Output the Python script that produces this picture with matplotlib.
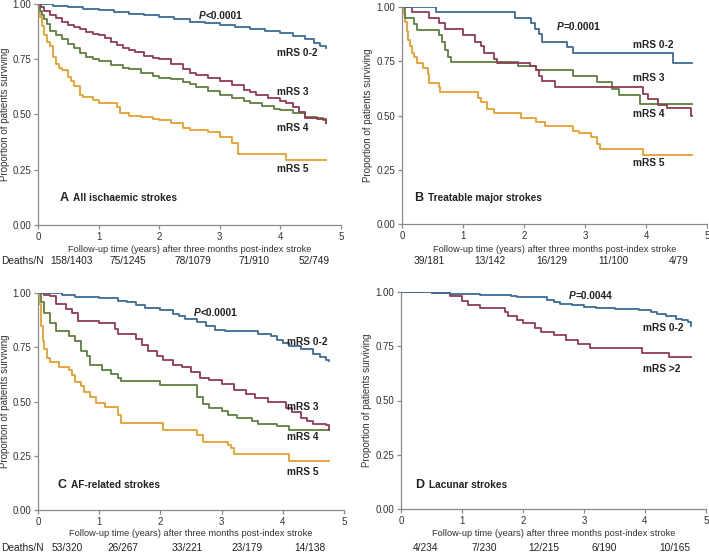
import matplotlib
matplotlib.use("Agg")
import matplotlib.pyplot as plt

plt.rcParams['font.family'] = ['Liberation Sans', 'DejaVu Sans']

# Colours
BLUE = "#3b6a92"
RED = "#8e3a52"
GREEN = "#5e7f3f"
ORANGE = "#e3a030"
AXIS = "#8a8a8a"
TEXT = "#222222"

# Panel A - all ischaemic strokes
a_02_t = [0, 0.25, 0.5, 0.75, 1.0, 1.25, 1.5, 1.75, 2.0, 2.25, 2.5, 2.75, 3.0, 3.25, 3.5, 3.75, 4.0, 4.2, 4.4, 4.55, 4.65, 4.75]
a_02_s = [1.0, 0.99, 0.985, 0.978, 0.973, 0.965, 0.955, 0.948, 0.94, 0.93, 0.92, 0.912, 0.905, 0.895, 0.887, 0.877, 0.867, 0.855, 0.84, 0.825, 0.81, 0.80]
a_3_t = [0, 0.05, 0.1, 0.2, 0.3, 0.4, 0.5, 0.6, 0.7, 0.8, 0.9, 1.0, 1.1, 1.2, 1.3, 1.4, 1.5, 1.6, 1.75, 1.9, 2.0, 2.2, 2.4, 2.5, 2.6, 2.8, 3.0, 3.2, 3.4, 3.5, 3.6, 3.8, 4.0, 4.1, 4.2, 4.3, 4.4, 4.6, 4.75]
a_3_s = [1.0, 0.985, 0.97, 0.95, 0.935, 0.92, 0.905, 0.895, 0.885, 0.875, 0.865, 0.86, 0.845, 0.83, 0.815, 0.80, 0.79, 0.785, 0.765, 0.755, 0.75, 0.73, 0.705, 0.69, 0.68, 0.665, 0.65, 0.635, 0.61, 0.60, 0.59, 0.575, 0.56, 0.55, 0.535, 0.51, 0.485, 0.48, 0.46]
a_4_t = [0, 0.03, 0.06, 0.1, 0.15, 0.2, 0.3, 0.4, 0.5, 0.6, 0.7, 0.8, 0.9, 1.0, 1.2, 1.4, 1.5, 1.7, 1.9, 2.0, 2.2, 2.4, 2.5, 2.6, 2.8, 3.0, 3.2, 3.4, 3.5, 3.7, 3.9, 4.0, 4.2, 4.4, 4.6, 4.7, 4.75]
a_4_s = [1.0, 0.97, 0.95, 0.93, 0.91, 0.88, 0.86, 0.84, 0.82, 0.80, 0.78, 0.76, 0.75, 0.74, 0.725, 0.71, 0.705, 0.69, 0.675, 0.665, 0.66, 0.645, 0.64, 0.625, 0.605, 0.59, 0.575, 0.56, 0.55, 0.54, 0.525, 0.52, 0.505, 0.49, 0.485, 0.475, 0.46]
a_5_t = [0, 0.03, 0.06, 0.1, 0.15, 0.2, 0.25, 0.3, 0.35, 0.4, 0.5, 0.55, 0.6, 0.7, 0.75, 0.9, 1.0, 1.3, 1.35, 1.5, 1.7, 1.9, 2.0, 2.2, 2.4, 2.5, 2.8, 3.0, 3.2, 3.3, 4.1, 4.75]
a_5_s = [1.0, 0.94, 0.9, 0.86, 0.83, 0.81, 0.76, 0.73, 0.71, 0.70, 0.67, 0.65, 0.63, 0.59, 0.58, 0.565, 0.55, 0.535, 0.505, 0.495, 0.49, 0.48, 0.475, 0.46, 0.44, 0.43, 0.42, 0.40, 0.37, 0.32, 0.295, 0.295]

# Panel B - treatable major strokes
b_02_t = [0, 0.55, 1.85, 2.12, 2.18, 2.24, 2.3, 2.7, 2.8, 4.44, 4.75]
b_02_s = [1.0, 0.975, 0.95, 0.925, 0.90, 0.875, 0.84, 0.815, 0.788, 0.742, 0.742]
b_3_t = [0, 0.17, 0.45, 0.6, 0.7, 1.0, 1.2, 1.3, 1.35, 1.5, 1.55, 2.1, 2.2, 2.25, 2.3, 2.5, 3.95, 4.03, 4.2, 4.34, 4.74, 4.75]
b_3_s = [1.0, 0.975, 0.95, 0.925, 0.90, 0.87, 0.84, 0.82, 0.79, 0.76, 0.74, 0.73, 0.71, 0.68, 0.66, 0.63, 0.60, 0.575, 0.55, 0.535, 0.50, 0.50]
b_4_t = [0, 0.05, 0.2, 0.25, 0.6, 0.65, 0.7, 0.75, 0.8, 1.9, 2.2, 2.8, 3.2, 3.45, 3.55, 3.9, 4.75]
b_4_s = [1.0, 0.95, 0.92, 0.895, 0.87, 0.84, 0.80, 0.77, 0.745, 0.73, 0.71, 0.68, 0.655, 0.62, 0.595, 0.555, 0.555]
b_5_t = [0, 0.03, 0.05, 0.08, 0.1, 0.13, 0.17, 0.2, 0.25, 0.35, 0.43, 0.45, 0.6, 0.62, 1.25, 1.3, 1.4, 1.5, 1.95, 2.2, 2.35, 2.8, 2.9, 3.1, 3.2, 3.25, 3.95, 4.75]
b_5_s = [1.0, 0.97, 0.93, 0.89, 0.85, 0.82, 0.79, 0.77, 0.74, 0.72, 0.69, 0.65, 0.63, 0.61, 0.58, 0.56, 0.53, 0.51, 0.49, 0.47, 0.45, 0.43, 0.42, 0.40, 0.37, 0.345, 0.32, 0.32]

# Panel C - AF-related strokes
c_02_t = [0, 0.4, 0.6, 1.0, 1.3, 1.45, 1.6, 1.75, 2.0, 2.2, 2.3, 2.4, 2.6, 2.75, 2.9, 3.05, 3.6, 3.8, 3.9, 4.0, 4.1, 4.3, 4.5, 4.6, 4.7, 4.75]
c_02_s = [1.0, 0.99, 0.98, 0.975, 0.965, 0.96, 0.945, 0.93, 0.92, 0.905, 0.895, 0.88, 0.865, 0.85, 0.83, 0.825, 0.81, 0.80, 0.785, 0.77, 0.755, 0.74, 0.72, 0.705, 0.69, 0.685]
c_3_t = [0, 0.1, 0.2, 0.3, 0.45, 0.55, 0.65, 1.0, 1.25, 1.3, 1.6, 1.7, 1.8, 1.95, 2.05, 2.2, 2.35, 2.5, 2.65, 2.8, 3.0, 3.2, 3.4, 3.55, 3.75, 4.05, 4.15, 4.3, 4.4, 4.5, 4.7, 4.75]
c_3_s = [1.0, 0.99, 0.985, 0.95, 0.925, 0.91, 0.87, 0.86, 0.835, 0.81, 0.79, 0.76, 0.735, 0.71, 0.69, 0.67, 0.66, 0.635, 0.61, 0.60, 0.58, 0.555, 0.535, 0.515, 0.50, 0.47, 0.45, 0.425, 0.41, 0.395, 0.39, 0.37]
c_4_t = [0, 0.05, 0.1, 0.2, 0.3, 0.5, 0.6, 0.7, 0.8, 0.85, 1.05, 1.2, 1.3, 1.35, 2.0, 2.6, 2.7, 2.8, 3.0, 3.1, 3.25, 3.5, 3.6, 3.9, 4.1, 4.75]
c_4_s = [1.0, 0.96, 0.91, 0.86, 0.825, 0.80, 0.78, 0.735, 0.71, 0.67, 0.645, 0.625, 0.61, 0.595, 0.575, 0.52, 0.49, 0.47, 0.455, 0.44, 0.425, 0.41, 0.395, 0.385, 0.37, 0.37]
c_5_t = [0, 0.02, 0.05, 0.08, 0.1, 0.15, 0.2, 0.35, 0.5, 0.55, 0.6, 0.7, 0.75, 0.85, 0.95, 1.1, 1.3, 1.35, 2.05, 2.6, 2.7, 3.1, 3.15, 3.2, 4.1, 4.75]
c_5_s = [1.0, 0.95, 0.85, 0.78, 0.74, 0.70, 0.68, 0.66, 0.645, 0.62, 0.59, 0.57, 0.545, 0.52, 0.495, 0.475, 0.44, 0.40, 0.37, 0.345, 0.315, 0.30, 0.285, 0.26, 0.225, 0.225]

# Panel D - lacunar strokes
d_02_t = [0, 0.5, 0.8, 1.3, 1.8, 1.9, 2.4, 2.5, 2.6, 2.8, 3.0, 3.2, 3.5, 3.9, 4.1, 4.2, 4.35, 4.5, 4.6, 4.7, 4.75]
d_02_s = [1.0, 0.995, 0.99, 0.985, 0.98, 0.975, 0.965, 0.955, 0.945, 0.94, 0.93, 0.925, 0.92, 0.915, 0.91, 0.90, 0.89, 0.875, 0.87, 0.86, 0.845]
d_2_t = [0, 0.5, 0.8, 1.0, 1.1, 1.3, 1.7, 1.75, 1.9, 2.0, 2.2, 2.3, 2.5, 2.7, 2.9, 3.1, 3.95, 4.4, 4.75]
d_2_s = [1.0, 0.995, 0.98, 0.96, 0.94, 0.925, 0.91, 0.89, 0.87, 0.855, 0.835, 0.815, 0.80, 0.78, 0.76, 0.74, 0.72, 0.70, 0.70]

# Deaths / number at risk per year
a_deaths = ["158/1403", "75/1245", "78/1079", "71/910", "52/749"]
b_deaths = ["39/181", "13/142", "16/129", "11/100", "4/79"]
c_deaths = ["53/320", "26/267", "33/221", "23/179", "14/138"]
d_deaths = ["4/234", "7/230", "12/215", "6/190", "10/165"]

XLABEL = "Follow-up time (years) after three months post-index stroke"
YLABEL = "Proportion of patients surviving"

FIG_W, FIG_H = 709, 552


def px_axes(fig, left, right, top, bottom):
    """Axes from pixel edges (top-left origin)."""
    return fig.add_axes([left / FIG_W, 1 - bottom / FIG_H,
                         (right - left) / FIG_W, (bottom - top) / FIG_H])


def setup_axes(ax):
    """Kaplan-Meier style axes: left/bottom spines only, grey."""
    ax.set_xlim(0, 5)
    ax.set_ylim(0, 1)
    for side in ("top", "right"):
        ax.spines[side].set_visible(False)
    for side in ("left", "bottom"):
        ax.spines[side].set_color(AXIS)
        ax.spines[side].set_linewidth(0.9)
    ax.set_xticks(range(6))
    ax.set_yticks([0, 0.25, 0.5, 0.75, 1.0])
    ax.set_yticklabels(["0.00", "0.25", "0.50", "0.75", "1.00"])
    ax.tick_params(colors=AXIS, labelcolor="#333333", labelsize=7, length=3, width=0.9, pad=2)
    ax.set_ylabel(YLABEL, fontsize=7, color="#333333")
    ax.set_xlabel(XLABEL, fontsize=6.7, color="#333333", va="center")
    ax.patch.set_alpha(0)


def place_labels(fig, ax, ylab_right_px, xlab_center_px):
    bbox = ax.get_position()
    left_px = bbox.x0 * FIG_W
    width_px = bbox.width * FIG_W
    bottom_px = (1 - bbox.y0) * FIG_H
    height_px = bbox.height * FIG_H
    ax.yaxis.set_label_coords((ylab_right_px - left_px) / width_px, 0.5)
    ax.xaxis.set_label_coords(0.5, (bottom_px - xlab_center_px) / height_px)


def curve(ax, t, s, color):
    ax.plot(t, s, drawstyle="steps-post", color=color, lw=1.3)


def label(ax, x, y, txt):
    ax.text(x, y, txt, fontsize=7.3, fontweight="bold", color=TEXT, va="center")


def pvalue(ax, x, y, rest):
    ax.text(x, y, "P", fontsize=7.3, fontweight="bold", style="italic", color=TEXT, va="center")
    ax.annotate(rest, (x, y), xytext=(5.0, 0), textcoords="offset points",
                fontsize=7.3, fontweight="bold", color=TEXT, va="center")


def panel_title(ax, x, y, letter, txt):
    ax.text(x, y, letter, fontsize=9, fontweight="bold", color=TEXT, va="center")
    ax.annotate(txt, (x, y), xytext=(10, 0), textcoords="offset points",
                fontsize=7.3, fontweight="bold", color=TEXT, va="center")


def deaths_row(fig, ax, deaths, positions, y_px, lead=None):
    y = 1 - y_px / FIG_H
    for val, pos in zip(deaths, positions):
        xf = fig.transFigure.inverted().transform(ax.transData.transform((pos, 0)))[0]
        fig.text(xf, y, val, fontsize=7.3, color="#222222", ha="center", va="center")
    if lead:
        fig.text(0.001, y, lead, fontsize=7.3, color="#222222", ha="left", va="center")


fig = plt.figure(figsize=(FIG_W / 100, FIG_H / 100), dpi=100)
ax_a = px_axes(fig, 38, 341, 4, 225)
ax_b = px_axes(fig, 402, 707, 7, 224)
ax_c = px_axes(fig, 38, 344, 293, 510)
ax_d = px_axes(fig, 401, 706, 292, 509)

for ax in (ax_a, ax_b, ax_c, ax_d):
    setup_axes(ax)

place_labels(fig, ax_a, 10, 250)
place_labels(fig, ax_b, 373, 250)
place_labels(fig, ax_c, 10, 534)
place_labels(fig, ax_d, 372, 534)

# A
curve(ax_a, a_5_t, a_5_s, ORANGE)
curve(ax_a, a_4_t, a_4_s, GREEN)
curve(ax_a, a_3_t, a_3_s, RED)
curve(ax_a, a_02_t, a_02_s, BLUE)
pvalue(ax_a, 2.65, 0.946, "<0.0001")
label(ax_a, 3.94, 0.777, "mRS 0-2")
label(ax_a, 3.94, 0.60, "mRS 3")
label(ax_a, 3.94, 0.44, "mRS 4")
label(ax_a, 3.94, 0.253, "mRS 5")
panel_title(ax_a, 0.35, 0.12, "A", "All ischaemic strokes")

# B
curve(ax_b, b_5_t, b_5_s, ORANGE)
curve(ax_b, b_4_t, b_4_s, GREEN)
curve(ax_b, b_3_t, b_3_s, RED)
curve(ax_b, b_02_t, b_02_s, BLUE)
pvalue(ax_b, 2.54, 0.91, "=0.0001")
label(ax_b, 3.78, 0.825, "mRS 0-2")
label(ax_b, 3.78, 0.675, "mRS 3")
label(ax_b, 3.78, 0.507, "mRS 4")
label(ax_b, 3.78, 0.28, "mRS 5")
panel_title(ax_b, 0.2, 0.12, "B", "Treatable major strokes")

# C
curve(ax_c, c_5_t, c_5_s, ORANGE)
curve(ax_c, c_4_t, c_4_s, GREEN)
curve(ax_c, c_3_t, c_3_s, RED)
curve(ax_c, c_02_t, c_02_s, BLUE)
pvalue(ax_c, 2.54, 0.91, "<0.0001")
label(ax_c, 4.07, 0.776, "mRS 0-2")
label(ax_c, 4.07, 0.476, "mRS 3")
label(ax_c, 4.07, 0.338, "mRS 4")
label(ax_c, 4.07, 0.176, "mRS 5")
panel_title(ax_c, 0.32, 0.115, "C", "AF-related strokes")

# D
curve(ax_d, d_2_t, d_2_s, RED)
curve(ax_d, d_02_t, d_02_s, BLUE)
pvalue(ax_d, 2.75, 0.98, "=0.0044")
label(ax_d, 3.97, 0.834, "mRS 0-2")
label(ax_d, 3.97, 0.645, "mRS >2")
panel_title(ax_d, 0.235, 0.11, "D", "Lacunar strokes")

# Deaths/N rows under each panel
deaths_row(fig, ax_a, a_deaths, [0.56, 1.49, 2.55, 3.56, 4.55], 261, lead="Deaths/N")
deaths_row(fig, ax_b, b_deaths, [0.44, 1.44, 2.46, 3.47, 4.54], 261)
deaths_row(fig, ax_c, c_deaths, [0.47, 1.39, 2.43, 3.41, 4.44], 548, lead="Deaths/N")
deaths_row(fig, ax_d, d_deaths, [0.40, 1.36, 2.34, 3.33, 4.49], 548)

fig.savefig("out.png", dpi=100)
